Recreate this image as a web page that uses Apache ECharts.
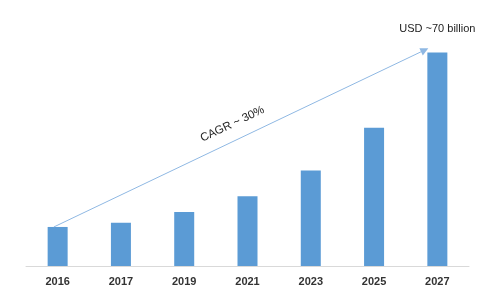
<!DOCTYPE html>
<html><head><meta charset="utf-8">
<script src="https://cdn.jsdelivr.net/npm/echarts@6/dist/echarts.min.js"></script>
<style>html,body{margin:0;padding:0;background:#fff}#c{width:500px;height:291px}</style>
</head><body><div id="c"></div>
<script>
const categories = ['2016','2017','2019','2021','2023','2025','2027'];
const values = [12.8, 14.2, 17.7, 22.9, 31.3, 45.3, 70];
const endLabel = 'USD ~70 billion';
const cagrLabel = 'CAGR ~ 30%';
const arrowStart = [-0.06, 12.8];
const arrowEnd = [5.8, 70.8];

const chart = echarts.init(document.getElementById('c'));
chart.setOption({
  animation: false,
  grid: {left: 26, right: 31, top: 22, bottom: 25},
  xAxis: [{
    type: 'category', data: categories,
    axisLine: {lineStyle: {color: '#d9d9d9'}},
    axisTick: {show: false},
    axisLabel: {color: '#333', fontSize: 11, fontWeight: 'bold', fontFamily: 'Liberation Sans', margin: 10}
  }, {
    type: 'value', min: -0.5, max: categories.length - 0.5, show: false, splitLine: {show: false}
  }],
  yAxis: {type: 'value', min: 0, max: 80, show: false, splitLine: {show: false}},
  series: [{
    type: 'bar', barWidth: 20,
    itemStyle: {color: '#5B9BD5'},
    data: values.map((v, i) => i === values.length - 1 ? {
      value: v,
      label: {show: true, position: 'top', distance: 18, formatter: endLabel, color: '#222', fontSize: 11, fontFamily: 'Liberation Sans'}
    } : v)
  }, {
    type: 'line', xAxisIndex: 1, data: [], silent: true,
    markLine: {
      silent: true,
      symbol: ['none', 'triangle'], symbolSize: [8, 8],
      lineStyle: {color: '#8fb8e3', width: 1, type: 'solid'},
      label: {show: true, position: 'middle', formatter: cagrLabel, color: '#222', fontSize: 11.5, fontFamily: 'Liberation Sans', distance: 10},
      data: [[{coord: arrowStart}, {coord: arrowEnd}]]
    }
  }]
});
</script></body></html>
